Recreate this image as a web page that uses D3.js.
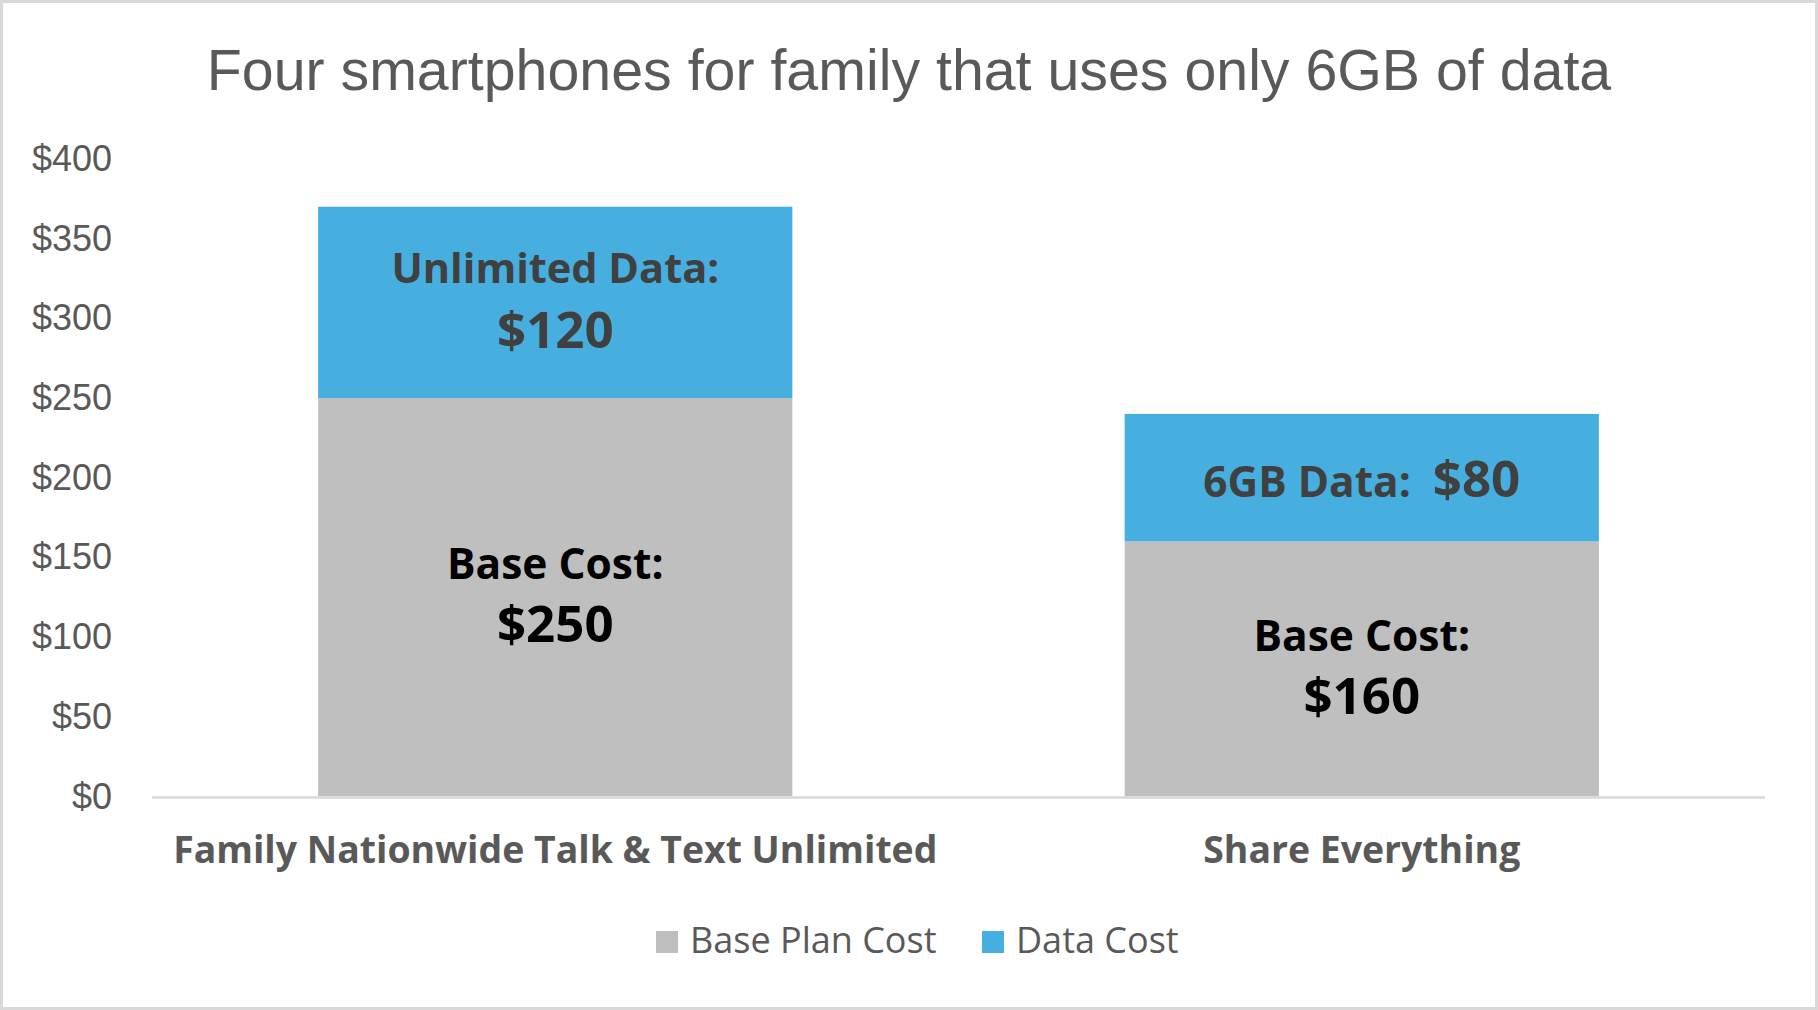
<!DOCTYPE html>
<html>
<head>
<meta charset="utf-8">
<script src="https://cdn.jsdelivr.net/npm/d3@7"></script>
<style>
  body { margin: 0; background: #fff; }
  svg { display: block; }
</style>
</head>
<body>
<div id="chart"></div>
<script>
// values
var categories = ['Family Nationwide Talk & Text Unlimited', 'Share Everything'];
var baseCost = [250, 160];
var dataCost = [120, 80];
var dataLabels = ['Unlimited Data:', '6GB Data:'];
var baseLabel = 'Base Cost:';
var seriesNames = ['Base Plan Cost', 'Data Cost'];
var yTicks = [0, 50, 100, 150, 200, 250, 300, 350, 400];

var width = 1818;
var height = 1010;
var colors = ['#BFBFBF', '#46AFDF'];

var svg = d3
    .select('#chart')
    .append('svg')
    .attr('width', width)
    .attr('height', height);

svg.append('rect')
    .attr('x', 1.5)
    .attr('y', 1.5)
    .attr('width', width - 3)
    .attr('height', height - 3)
    .attr('fill', '#fff')
    .attr('stroke', '#D9D9D9')
    .attr('stroke-width', 3);

svg.append('text')
    .attr('x', 909)
    .attr('y', 90)
    .attr('text-anchor', 'middle')
    .style('font-family', '"Liberation Sans", Arial, sans-serif')
    .style('font-size', '57.3px')
    .style('fill', '#595959')
    .text('Four smartphones for family that uses only 6GB of data');

var x = d3.scaleBand()
    .domain(categories)
    .range([152, 1765])
    .paddingInner(0.412)
    .paddingOuter(0.206);

var y = d3.scaleLinear()
    .domain([0, 400])
    .range([796.5, 158.9]);

var rows = categories.map(function (c, i) {
    return { cat: c, base: baseCost[i], data: dataCost[i], label: dataLabels[i] };
});
var stack = d3.stack().keys(['base', 'data'])(rows);

// y axis labels
var yAxis = svg.append('g')
    .attr('transform', 'translate(118,0)')
    .call(d3.axisLeft(y).tickValues(yTicks).tickSize(0).tickPadding(6).tickFormat(function (d) { return '$' + d; }));
yAxis.select('.domain').remove();
yAxis.selectAll('text')
    .style('font-family', '"Liberation Sans", Arial, sans-serif')
    .style('font-size', '36px')
    .style('fill', '#595959');

// bars
svg.append('g')
    .selectAll('g')
    .data(stack)
    .join('g')
    .attr('fill', function (d, i) { return colors[i]; })
    .selectAll('rect')
    .data(function (d) { return d; })
    .join('rect')
    .attr('x', function (d) { return x(d.data.cat); })
    .attr('width', x.bandwidth())
    .attr('y', function (d) { return y(d[1]); })
    .attr('height', function (d) { return y(d[0]) - y(d[1]); });

// category axis
svg.append('line')
    .attr('x1', 152)
    .attr('x2', 1765)
    .attr('y1', y(0) + 1)
    .attr('y2', y(0) + 1)
    .attr('stroke', '#D9D9D9')
    .attr('stroke-width', 2.5);

var xAxis = svg.append('g')
    .attr('transform', `translate(0, ${y(0)})`)
    .call(d3.axisBottom(x).tickSize(0));
xAxis.select('.domain').remove();
xAxis.selectAll('text')
    .attr('y', 66.5)
    .attr('dy', 0)
    .style('font-family', '"Open Sans", sans-serif')
    .style('font-weight', 700)
    .style('font-size', '37.4px')
    .style('fill', '#595959');

// labels in the segments
var labelFont = '"Open Sans", sans-serif';
rows.forEach(function (r, i) {
    var cx = x(r.cat) + x.bandwidth() / 2;
    var baseMid = (y(0) + y(r.base)) / 2;
    var dataMid = (y(r.base) + y(r.base + r.data)) / 2;

    svg.append('text')
        .attr('x', cx).attr('y', baseMid - 18)
        .attr('text-anchor', 'middle')
        .style('font-family', labelFont).style('font-weight', 700)
        .style('font-size', '42.5px').style('fill', '#000')
        .text(baseLabel);
    svg.append('text')
        .attr('x', cx).attr('y', baseMid + 45)
        .attr('text-anchor', 'middle')
        .style('font-family', labelFont).style('font-weight', 700)
        .style('font-size', '51px').style('fill', '#000')
        .text('$' + r.base);

    if (i === 0) {
        svg.append('text')
            .attr('x', cx).attr('y', dataMid - 19)
            .attr('text-anchor', 'middle')
            .style('font-family', labelFont).style('font-weight', 700)
            .style('font-size', '41.5px').style('fill', '#404040')
            .text(r.label);
        svg.append('text')
            .attr('x', cx).attr('y', dataMid + 46)
            .attr('text-anchor', 'middle')
            .style('font-family', labelFont).style('font-weight', 700)
            .style('font-size', '51px').style('fill', '#404040')
            .text('$' + r.data);
    } else {
        var t = svg.append('text')
            .attr('x', cx).attr('y', dataMid + 19)
            .attr('text-anchor', 'middle')
            .style('font-family', labelFont).style('font-weight', 700)
            .style('fill', '#404040');
        t.append('tspan').style('font-size', '42.4px').text(r.label + '\u00a0 ');
        t.append('tspan').style('font-size', '51px').text('$' + r.data);
    }
});

// legend
var legend = svg.append('g')
    .selectAll('g')
    .data(seriesNames)
    .join('g')
    .attr('transform', function (d, i) { return `translate(${[656, 982][i]}, 931)`; });
legend.append('rect')
    .attr('width', 22)
    .attr('height', 22)
    .attr('fill', function (d, i) { return colors[i]; });
legend.append('text')
    .attr('x', 34)
    .attr('y', 22)
    .style('font-family', '"Open Sans", sans-serif')
    .style('font-size', '36px')
    .style('fill', '#595959')
    .text(function (d) { return d; });
</script>
</body>
</html>
